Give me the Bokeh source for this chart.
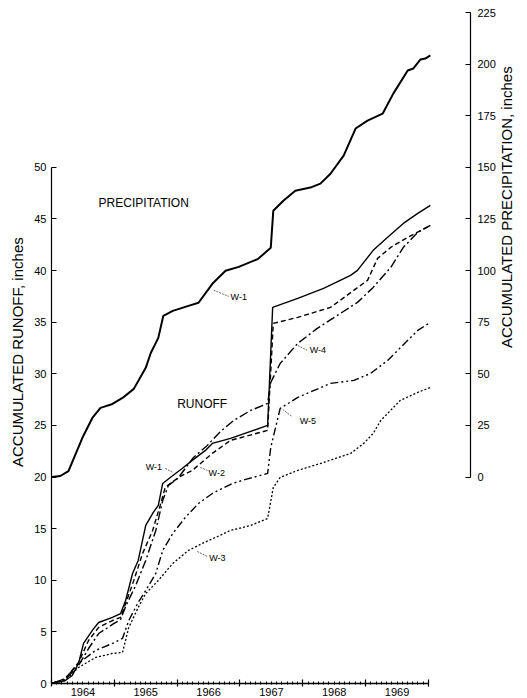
import math
from bokeh.plotting import figure
from bokeh.layouts import gridplot
from bokeh.models import Range1d, LinearAxis, FixedTicker, Label
from bokeh.embed import file_html
from bokeh.resources import INLINE

# ---------------- data ----------------
# Accumulated precipitation (inches), right axis
prec_year = [1964.00, 1964.14, 1964.27, 1964.49, 1964.65, 1964.78, 1964.97, 1965.13, 1965.31, 1965.50,
             1965.58, 1965.70, 1965.78, 1965.93, 1966.18, 1966.34, 1966.56, 1966.77, 1966.98, 1967.29,
             1967.49, 1967.53, 1967.69, 1967.88, 1968.12, 1968.28, 1968.44, 1968.65, 1968.84, 1969.03,
             1969.27, 1969.44, 1969.67, 1969.76, 1969.87, 1969.95, 1970.03]
prec_in = [0.0, 0.5, 2.9, 18.9, 28.6, 33.5, 35.4, 38.3, 42.7, 52.9,
           60.1, 67.4, 78.1, 80.5, 82.9, 84.4, 93.6, 99.9, 101.8, 105.7,
           111.1, 129.0, 133.8, 138.7, 140.2, 142.1, 146.9, 155.7, 168.8, 172.6,
           176.0, 185.7, 196.9, 197.9, 202.2, 202.7, 204.2]

# Accumulated runoff (inches), left axis
w1_year = [1964.00, 1964.22, 1964.33, 1964.43, 1964.51, 1964.65, 1964.75, 1964.97, 1965.10, 1965.18,
           1965.29, 1965.38, 1965.50, 1965.62, 1965.70, 1965.77, 1965.89, 1966.08, 1966.24, 1966.45,
           1966.56, 1966.85, 1967.44, 1967.52, 1967.92, 1968.33, 1968.76, 1968.87, 1969.12, 1969.35,
           1969.60, 1969.83, 1970.03]
w1_in = [0.0, 0.29, 0.78, 1.94, 3.88, 5.14, 5.91, 6.40, 6.78, 8.04,
         10.66, 11.92, 15.31, 16.57, 17.25, 19.38, 19.96, 20.83, 21.61, 22.58,
         23.26, 23.74, 25.00, 36.43, 37.31, 38.28, 39.53, 40.02, 41.96, 43.22,
         44.57, 45.54, 46.32]

w2_year = [1964.00, 1964.22, 1964.43, 1964.59, 1964.75, 1964.97, 1965.10, 1965.18, 1965.31, 1965.45,
           1965.61, 1965.73, 1965.81, 1966.02, 1966.24, 1966.56, 1966.85, 1967.44, 1967.53, 1967.92,
           1968.44, 1968.81, 1969.03, 1969.19, 1969.40, 1969.67, 1970.03]
w2_in = [0.0, 0.48, 2.03, 4.17, 5.43, 6.10, 6.40, 7.75, 9.98, 12.60,
         14.83, 17.25, 18.99, 19.96, 20.64, 22.29, 23.55, 24.52, 34.88, 35.47,
         36.43, 38.08, 39.05, 41.18, 42.25, 43.22, 44.38]

w3_year = [1964.00, 1964.22, 1964.43, 1964.70, 1964.97, 1965.13, 1965.23, 1965.38, 1965.50, 1965.70,
           1965.93, 1966.18, 1966.40, 1966.61, 1966.85, 1967.17, 1967.44, 1967.53, 1967.64, 1967.92,
           1968.33, 1968.76, 1968.97, 1969.12, 1969.24, 1969.35, 1969.55, 1969.83, 1970.03]
w3_in = [0.0, 0.29, 1.55, 2.52, 2.91, 3.00, 5.43, 7.36, 8.72, 9.98,
         11.63, 12.89, 13.57, 14.15, 14.83, 15.31, 15.99, 18.99, 19.96, 20.64,
         21.41, 22.29, 23.26, 24.22, 25.48, 26.16, 27.42, 28.20, 28.68]

w4_year = [1964.00, 1964.22, 1964.43, 1964.59, 1964.75, 1964.97, 1965.10, 1965.18, 1965.34, 1965.50,
           1965.66, 1965.77, 1965.86, 1966.01, 1966.26, 1966.48, 1966.69, 1966.90, 1967.17, 1967.44,
           1967.49, 1967.64, 1967.92, 1968.23, 1968.55, 1968.87, 1969.12, 1969.40, 1969.60, 1969.83,
           1970.03]
w4_in = [0.0, 0.39, 1.74, 3.39, 4.84, 5.72, 6.20, 7.46, 9.50, 11.92,
         14.83, 17.73, 19.19, 19.86, 21.90, 23.06, 24.42, 25.48, 26.45, 27.13,
         29.17, 31.01, 32.95, 34.40, 35.66, 36.92, 38.37, 40.31, 42.25, 43.70,
         44.38]

w5_year = [1964.00, 1964.22, 1964.43, 1964.70, 1964.97, 1965.13, 1965.23, 1965.37, 1965.50, 1965.66,
           1965.77, 1965.93, 1966.13, 1966.34, 1966.56, 1966.88, 1967.09, 1967.44, 1967.49, 1967.64,
           1967.92, 1968.44, 1968.81, 1969.08, 1969.35, 1969.67, 1969.83, 1970.03]
w5_in = [0.0, 0.48, 1.94, 3.20, 3.88, 4.36, 6.10, 7.75, 9.01, 10.66,
         12.89, 14.53, 16.09, 17.44, 18.41, 19.38, 19.77, 20.35, 22.87, 26.65,
         27.71, 29.07, 29.36, 30.04, 31.30, 33.24, 34.21, 34.98]

runoff_ticks = [0, 5, 10, 15, 20, 25, 30, 35, 40, 45, 50]
precip_ticks = [0, 25, 50, 75, 100, 125, 150, 175, 200, 225]
year_bounds = [1964, 1965, 1966, 1967, 1968, 1969, 1970]
year_labels = ["1964", "1965", "1966", "1967", "1968", "1969"]

# curve annotations: (text, label x, label y, leader x0, y0, x1, y1) in runoff-axis units
curve_notes = [
    ("W-1", 1966.85, 37.4, 1966.58, 38.1, 1966.82, 37.5),
    ("W-4", 1968.11, 32.3, 1967.92, 32.75, 1968.07, 32.27),
    ("W-5", 1967.95, 25.4, 1967.68, 26.55, 1967.82, 25.9),
    ("W-1", 1965.50, 21.0, 1965.81, 20.83, 1965.93, 20.45),
    ("W-2", 1966.50, 20.35, 1966.37, 20.93, 1966.48, 20.64),
    ("W-3", 1966.51, 12.2, 1966.32, 12.79, 1966.48, 12.31),
]

FONT = "Liberation Sans"

# ---------------- figure ----------------
p = figure(width=527, height=698, output_backend="svg", toolbar_location=None,
           x_range=Range1d(1964.0, 1970.669), y_range=Range1d(0, 65), title=" ",
           min_border_left=51, min_border_right=57, min_border_top=12, min_border_bottom=15)
p.title.text_font_size = "1px"
p.title.standoff = 0
p.extra_y_ranges = {"precip": Range1d(-100, 225)}
p.grid.visible = False
p.outline_line_color = None


def style_axis(ax):
    ax.axis_line_color = "black"
    ax.axis_line_width = 1.2
    ax.major_tick_line_color = "black"
    ax.major_tick_line_width = 1.2
    ax.major_label_text_font = FONT
    ax.major_label_text_font_size = "11px"
    ax.major_label_text_color = "black"
    ax.axis_label_text_font = FONT
    ax.axis_label_text_font_size = "15px"
    ax.axis_label_text_font_style = "normal"
    ax.axis_label_text_color = "black"


# left axis (runoff)
ax_l = p.yaxis[0]
style_axis(ax_l)
ax_l.ticker = FixedTicker(ticks=runoff_ticks)
ax_l.bounds = (0, 50)
ax_l.major_tick_in = 5
ax_l.major_tick_out = 0
ax_l.minor_tick_line_color = None
ax_l.major_label_standoff = 5
ax_l.axis_label = "ACCUMULATED  RUNOFF,  inches"
ax_l.axis_label_standoff = 5

# right axis (precipitation)
ax_r = LinearAxis(y_range_name="precip", ticker=FixedTicker(ticks=precip_ticks), bounds=(0, 225))
style_axis(ax_r)
ax_r.major_tick_in = 5
ax_r.major_tick_out = 0
ax_r.minor_tick_line_color = None
ax_r.major_label_standoff = 7
ax_r.axis_label = "ACCUMULATED  PRECIPITATION,  inches"
ax_r.axis_label_standoff = 8
try:
    ax_r.axis_label_orientation = math.pi / 2
except Exception:
    pass
p.add_layout(ax_r, "right")

# bottom axis: year boundaries with monthly minor ticks
months = [1964 + i / 12 for i in range(0, 73)]
ax_b = p.xaxis[0]
style_axis(ax_b)
ax_b.ticker = FixedTicker(ticks=year_bounds, minor_ticks=months)
ax_b.bounds = (1964, 1970)
ax_b.major_tick_in = 4
ax_b.major_tick_out = 3
ax_b.minor_tick_in = 2
ax_b.minor_tick_out = 1
ax_b.minor_tick_line_color = "black"
ax_b.axis_line_width = 1.5
ax_b.major_label_overrides = {y: "" for y in year_bounds}
ax_b.major_label_text_font_size = "1px"
ax_b.major_label_standoff = 0

# bottom labels centred within each year
mid_years = [y + 0.5 for y in year_bounds[:-1]]
ax_y = LinearAxis(ticker=FixedTicker(ticks=mid_years),
                  major_label_overrides={m: t for m, t in zip(mid_years, year_labels)})
style_axis(ax_y)
ax_y.axis_line_color = None
ax_y.major_tick_line_color = None
ax_y.minor_tick_line_color = None
ax_y.major_tick_in = 0
ax_y.major_tick_out = 0
ax_y.major_label_standoff = 1
p.add_layout(ax_y, "below")

# ---------------- curves ----------------
p.line(prec_year, prec_in, y_range_name="precip", line_color="black", line_width=2)
p.line(w1_year, w1_in, line_color="black", line_width=1.4)
p.line(w2_year, w2_in, line_color="black", line_width=1.4, line_dash="5 3")
p.line(w4_year, w4_in, line_color="black", line_width=1.4, line_dash="9 3 2 3")
p.line(w5_year, w5_in, line_color="black", line_width=1.4, line_dash="8 3 2 3 2 3")
p.line(w3_year, w3_in, line_color="black", line_width=1.3, line_dash="2 2")

# ---------------- texts ----------------
p.add_layout(Label(x=1964.75, y=46.5, text="PRECIPITATION", text_font=FONT, text_color="black",
                   text_font_size="12px", text_baseline="middle", text_align="left"))
p.add_layout(Label(x=1966.0, y=27.1, text="RUNOFF", text_font=FONT, text_color="black",
                   text_font_size="12px", text_baseline="middle", text_align="left"))

for t, lx, ly, x0, y0, x1, y1 in curve_notes:
    p.add_layout(Label(x=lx, y=ly, text=t, text_font=FONT, text_font_size="9px", text_color="black",
                       text_baseline="middle", text_align="left"))
    p.line([x0, x1], [y0, y1], line_color="black", line_width=0.6, line_dash="2 1")

g = gridplot([[p]], toolbar_location=None)
open("out.html", "w").write(file_html(g, INLINE))
